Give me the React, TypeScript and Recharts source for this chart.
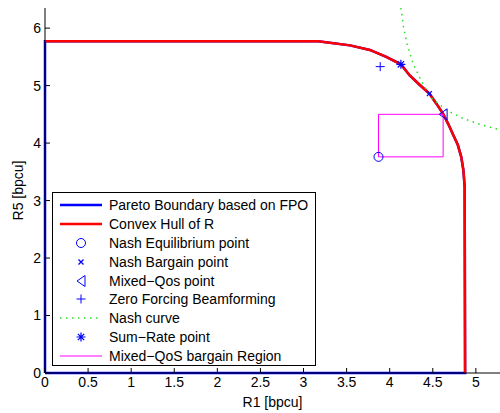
import React from 'react';
import { ComposedChart, Line, Scatter, XAxis, YAxis, Legend } from 'recharts';

const FONT = '"Liberation Sans", Arial, Helvetica, sans-serif';
const BLUE = '#0000ff';
const RED = '#ff0000';
const GREEN = '#22e022';
const MAGENTA = '#ff00ff';

const xTicks = [0, 0.5, 1, 1.5, 2, 2.5, 3, 3.5, 4, 4.5, 5];
const yTicks = [0, 1, 2, 3, 4, 5, 6];

// Pareto boundary, closed around the rate region starting at the origin
const boundaryR1 = [0, 0, 3.17, 3.54, 3.77, 3.96, 4.13, 4.23, 4.35, 4.46, 4.54, 4.62, 4.68, 4.74, 4.79, 4.83, 4.855, 4.87, 4.875, 0];
const boundaryR5 = [0, 5.77, 5.77, 5.70, 5.62, 5.50, 5.37, 5.18, 5.01, 4.86, 4.69, 4.51, 4.33, 4.13, 3.97, 3.76, 3.53, 3.24, 0, 0];

// convex hull follows the outer part of the boundary only
const hullR1 = boundaryR1.slice(1, -1);
const hullR5 = boundaryR5.slice(1, -1);

const nashCurveR1 = [4.13, 4.14, 4.16, 4.20, 4.27, 4.37, 4.49, 4.66, 4.85, 5.08, 5.28];
const nashCurveR5 = [6.35, 6.25, 6.02, 5.73, 5.39, 5.07, 4.78, 4.57, 4.43, 4.31, 4.23];

const regionR1 = [3.87, 4.62, 4.62, 3.87, 3.87];
const regionR5 = [3.76, 3.76, 4.50, 4.50, 3.76];

const nashEquilibrium = [{ x: 3.87, y: 3.76 }];
const nashBargain = [{ x: 4.46, y: 4.86 }];
const mixedQos = [{ x: 4.62, y: 4.50 }];
const zeroForcing = [{ x: 3.89, y: 5.33 }];
const sumRate = [{ x: 4.13, y: 5.37 }];

const zip = (xs: number[], ys: number[]) => xs.map((x, i) => ({ x, y: ys[i] }));

const boundaryData = zip(boundaryR1, boundaryR5);
const hullData = zip(hullR1, hullR5);
const nashCurveData = zip(nashCurveR1, nashCurveR5);
const regionData = zip(regionR1, regionR5);

type MarkerKind = 'circle' | 'cross' | 'triangle' | 'plus' | 'star';

const Marker = ({ kind, cx, cy }: { kind: MarkerKind; cx: number; cy: number }) => {
  const p = { stroke: BLUE, strokeWidth: 1, fill: 'none' };
  switch (kind) {
    case 'circle':
      return <circle cx={cx} cy={cy} r={4.5} {...p} />;
    case 'cross':
      return (
        <path
          d={`M${cx - 2.5},${cy - 2.5}L${cx + 2.5},${cy + 2.5}M${cx - 2.5},${cy + 2.5}L${cx + 2.5},${cy - 2.5}`}
          {...p}
          strokeWidth={1.3}
        />
      );
    case 'triangle':
      return <path d={`M${cx - 4},${cy}L${cx + 4},${cy - 5.5}L${cx + 4},${cy + 5.5}Z`} {...p} />;
    case 'plus':
      return <path d={`M${cx - 4.5},${cy}L${cx + 4.5},${cy}M${cx},${cy - 4.5}L${cx},${cy + 4.5}`} {...p} />;
    case 'star':
      return (
        <path
          d={`M${cx - 4.5},${cy}L${cx + 4.5},${cy}M${cx},${cy - 4.5}L${cx},${cy + 4.5}M${cx - 3.2},${cy - 3.2}L${cx + 3.2},${cy + 3.2}M${cx - 3.2},${cy + 3.2}L${cx + 3.2},${cy - 3.2}`}
          {...p}
          strokeWidth={1.2}
        />
      );
  }
  return null;
};

const markerShape = (kind: MarkerKind) => (props: any) => <Marker kind={kind} cx={props.cx} cy={props.cy} />;

const legendRows: { label: string; line?: { color: string; width: number; dash?: string }; marker?: MarkerKind }[] = [
  { label: 'Pareto Boundary based on FPO', line: { color: BLUE, width: 2.5 } },
  { label: 'Convex Hull of R', line: { color: RED, width: 2.5 } },
  { label: 'Nash Equilibrium point', marker: 'circle' },
  { label: 'Nash Bargain point', marker: 'cross' },
  { label: 'Mixed\u2212Qos point', marker: 'triangle' },
  { label: 'Zero Forcing Beamforming', marker: 'plus' },
  { label: 'Nash curve', line: { color: GREEN, width: 1.5, dash: '1.5 4.5' } },
  { label: 'Sum\u2212Rate point', marker: 'star' },
  { label: 'Mixed\u2212QoS bargain Region', line: { color: MAGENTA, width: 1 } },
];

const LegendBox = () => (
  <div
    style={{
      boxSizing: 'border-box',
      width: 264,
      height: 174,
      border: '1px solid #000',
      background: '#fff',
      paddingTop: 3,
      fontFamily: FONT,
      fontSize: 14,
      color: '#000',
    }}
  >
    {legendRows.map((row) => (
      <div key={row.label} style={{ display: 'flex', alignItems: 'center', height: 18.8 }}>
        <svg width={56} height={18} style={{ flex: 'none' }}>
          {row.line && (
            <line
              x1={7}
              x2={49}
              y1={9}
              y2={9}
              stroke={row.line.color}
              strokeWidth={row.line.width}
              strokeDasharray={row.line.dash}
            />
          )}
          {row.marker && <Marker kind={row.marker} cx={28} cy={9} />}
        </svg>
        <span style={{ whiteSpace: 'nowrap', lineHeight: '18px' }}>{row.label}</span>
      </div>
    ))}
  </div>
);

const YTitle = (props: any) => {
  const vb = props.viewBox || { x: 0, y: 8, width: 45, height: 365 };
  const cx = vb.x + 18;
  const cy = vb.y + vb.height / 2;
  return (
    <text
      x={cx}
      y={cy}
      transform={`rotate(-90 ${cx} ${cy})`}
      textAnchor="middle"
      dominantBaseline="central"
      fontSize={14}
      fontFamily={FONT}
      fill="#000"
    >
      R5 [bpcu]
    </text>
  );
};

const tickStyle = { fill: '#000', fontSize: 14, fontFamily: FONT };

export default function App() {
  return (
    <div style={{ position: 'absolute', left: 0, top: 0, background: '#fff' }}>
      <ComposedChart width={500} height={413} margin={{ top: 8, right: 0, bottom: 0, left: 0 }}>
        <XAxis
          dataKey="x"
          type="number"
          domain={[0, 5.28]}
          ticks={xTicks}
          height={40}
          stroke="#000"
          tickSize={-5}
          tickMargin={9}
          tick={tickStyle}
          label={{ value: 'R1 [bpcu]', position: 'insideBottom', offset: 6, fill: '#000', fontSize: 14, fontFamily: FONT }}
        />
        <XAxis
          xAxisId="top"
          orientation="top"
          dataKey="x"
          type="number"
          domain={[0, 5.28]}
          ticks={xTicks}
          height={0}
          stroke="#000"
          tickSize={-5}
          tickFormatter={() => ''}
        />
        <YAxis
          type="number"
          domain={[0, 6.35]}
          ticks={yTicks}
          width={45}
          stroke="#000"
          tickSize={-5}
          tickMargin={9}
          tick={tickStyle}
          label={<YTitle />}
        />
        <Legend
          layout="vertical"
          align="center"
          verticalAlign="middle"
          content={() => <LegendBox />}
          wrapperStyle={{ left: 52, top: 192, width: 264, height: 174 }}
        />
        <Line data={boundaryData} dataKey="y" type="linear" stroke={BLUE} strokeWidth={2.5} dot={false} isAnimationActive={false} />
        <Line data={hullData} dataKey="y" type="linear" stroke={RED} strokeWidth={2.5} dot={false} isAnimationActive={false} />
        <Line
          data={nashCurveData}
          dataKey="y"
          type="linear"
          stroke={GREEN}
          strokeWidth={1.5}
          strokeDasharray="1.5 4.5"
          dot={false}
          isAnimationActive={false}
        />
        <Line data={regionData} dataKey="y" type="linear" stroke={MAGENTA} strokeWidth={1} dot={false} isAnimationActive={false} />
        <Scatter data={nashEquilibrium} dataKey="y" shape={markerShape('circle')} isAnimationActive={false} />
        <Scatter data={nashBargain} dataKey="y" shape={markerShape('cross')} isAnimationActive={false} />
        <Scatter data={mixedQos} dataKey="y" shape={markerShape('triangle')} isAnimationActive={false} />
        <Scatter data={zeroForcing} dataKey="y" shape={markerShape('plus')} isAnimationActive={false} />
        <Scatter data={sumRate} dataKey="y" shape={markerShape('star')} isAnimationActive={false} />
      </ComposedChart>
    </div>
  );
}
